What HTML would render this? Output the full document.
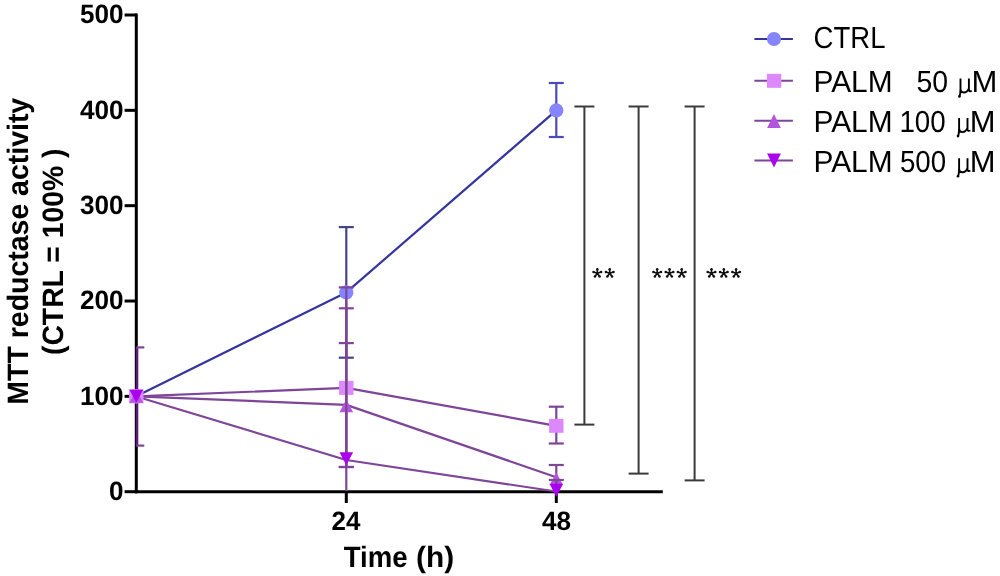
<!DOCTYPE html>
<html><head><meta charset="utf-8"><style>
html,body{margin:0;padding:0;background:#fff;width:1000px;height:576px;overflow:hidden}
svg{display:block;will-change:transform;filter:blur(0.4px)}
text{text-rendering:geometricPrecision}
</style></head><body>
<svg width="1000" height="576" viewBox="0 0 1000 576">
<rect width="1000" height="576" fill="#fff"/>
<g stroke="#000" stroke-width="3" fill="none" stroke-linecap="butt">
<line x1="136.3" y1="13.4" x2="136.3" y2="493.3"/>
<line x1="134.8" y1="491.8" x2="662.8" y2="491.8"/>
<line x1="124.6" y1="491.70" x2="137" y2="491.70"/>
<line x1="124.6" y1="396.36" x2="137" y2="396.36"/>
<line x1="124.6" y1="301.02" x2="137" y2="301.02"/>
<line x1="124.6" y1="205.68" x2="137" y2="205.68"/>
<line x1="124.6" y1="110.34" x2="137" y2="110.34"/>
<line x1="124.6" y1="15.00" x2="137" y2="15.00"/>
<line x1="346.30" y1="491" x2="346.30" y2="503"/>
<line x1="556.30" y1="491" x2="556.30" y2="503"/>
</g>
<g font-family="'Liberation Sans', sans-serif">
<text x="108.96" y="500.10" font-size="26.5" font-weight="bold" fill="#000" textLength="14.52" lengthAdjust="spacingAndGlyphs">0</text>
<text x="79.98" y="404.76" font-size="26.5" font-weight="bold" fill="#000" textLength="43.55" lengthAdjust="spacingAndGlyphs">100</text>
<text x="79.98" y="309.42" font-size="26.5" font-weight="bold" fill="#000" textLength="43.55" lengthAdjust="spacingAndGlyphs">200</text>
<text x="79.98" y="214.08" font-size="26.5" font-weight="bold" fill="#000" textLength="43.55" lengthAdjust="spacingAndGlyphs">300</text>
<text x="79.98" y="118.74" font-size="26.5" font-weight="bold" fill="#000" textLength="43.55" lengthAdjust="spacingAndGlyphs">400</text>
<text x="79.98" y="23.40" font-size="26.5" font-weight="bold" fill="#000" textLength="43.55" lengthAdjust="spacingAndGlyphs">500</text>
<text x="331.49" y="530.30" font-size="26.5" font-weight="bold" fill="#000" textLength="28.90" lengthAdjust="spacingAndGlyphs">24</text>
<text x="542.01" y="530.30" font-size="26.5" font-weight="bold" fill="#000" textLength="29.04" lengthAdjust="spacingAndGlyphs">48</text>
<text x="343.72" y="566.50" font-size="29.5" font-weight="bold" fill="#000" textLength="63.87" lengthAdjust="spacingAndGlyphs">Time</text>
<text x="416.11" y="566.50" font-size="29.5" font-weight="bold" fill="#000" textLength="38.09" lengthAdjust="spacingAndGlyphs">(h)</text>
<g transform="translate(28.3,0) rotate(-90)"><text x="-404.65" y="0.00" font-size="29.5" font-weight="bold" fill="#000" textLength="306.84" lengthAdjust="spacingAndGlyphs">MTT reductase activity</text></g>
<g transform="translate(62.6,0) rotate(-90)"><text x="-355.02" y="0.00" font-size="29.5" font-weight="bold" fill="#000" textLength="206.41" lengthAdjust="spacingAndGlyphs">(CTRL = 100% )</text></g>
<path d="M597.30,273.30 L597.30,269.30 M597.30,273.30 L601.10,272.06 M597.30,273.30 L599.65,276.54 M597.30,273.30 L594.95,276.54 M597.30,273.30 L593.50,272.06 " stroke="#111" stroke-width="1.7" fill="none"/><g fill="#111"><circle cx="597.30" cy="269.30" r="1.25"/><circle cx="601.10" cy="272.06" r="1.25"/><circle cx="599.65" cy="276.54" r="1.25"/><circle cx="594.95" cy="276.54" r="1.25"/><circle cx="593.50" cy="272.06" r="1.25"/></g>
<path d="M609.70,273.30 L609.70,269.30 M609.70,273.30 L613.50,272.06 M609.70,273.30 L612.05,276.54 M609.70,273.30 L607.35,276.54 M609.70,273.30 L605.90,272.06 " stroke="#111" stroke-width="1.7" fill="none"/><g fill="#111"><circle cx="609.70" cy="269.30" r="1.25"/><circle cx="613.50" cy="272.06" r="1.25"/><circle cx="612.05" cy="276.54" r="1.25"/><circle cx="607.35" cy="276.54" r="1.25"/><circle cx="605.90" cy="272.06" r="1.25"/></g>
<path d="M657.20,273.30 L657.20,269.30 M657.20,273.30 L661.00,272.06 M657.20,273.30 L659.55,276.54 M657.20,273.30 L654.85,276.54 M657.20,273.30 L653.40,272.06 " stroke="#111" stroke-width="1.7" fill="none"/><g fill="#111"><circle cx="657.20" cy="269.30" r="1.25"/><circle cx="661.00" cy="272.06" r="1.25"/><circle cx="659.55" cy="276.54" r="1.25"/><circle cx="654.85" cy="276.54" r="1.25"/><circle cx="653.40" cy="272.06" r="1.25"/></g>
<path d="M669.50,273.30 L669.50,269.30 M669.50,273.30 L673.30,272.06 M669.50,273.30 L671.85,276.54 M669.50,273.30 L667.15,276.54 M669.50,273.30 L665.70,272.06 " stroke="#111" stroke-width="1.7" fill="none"/><g fill="#111"><circle cx="669.50" cy="269.30" r="1.25"/><circle cx="673.30" cy="272.06" r="1.25"/><circle cx="671.85" cy="276.54" r="1.25"/><circle cx="667.15" cy="276.54" r="1.25"/><circle cx="665.70" cy="272.06" r="1.25"/></g>
<path d="M681.70,273.30 L681.70,269.30 M681.70,273.30 L685.50,272.06 M681.70,273.30 L684.05,276.54 M681.70,273.30 L679.35,276.54 M681.70,273.30 L677.90,272.06 " stroke="#111" stroke-width="1.7" fill="none"/><g fill="#111"><circle cx="681.70" cy="269.30" r="1.25"/><circle cx="685.50" cy="272.06" r="1.25"/><circle cx="684.05" cy="276.54" r="1.25"/><circle cx="679.35" cy="276.54" r="1.25"/><circle cx="677.90" cy="272.06" r="1.25"/></g>
<path d="M711.50,273.30 L711.50,269.30 M711.50,273.30 L715.30,272.06 M711.50,273.30 L713.85,276.54 M711.50,273.30 L709.15,276.54 M711.50,273.30 L707.70,272.06 " stroke="#111" stroke-width="1.7" fill="none"/><g fill="#111"><circle cx="711.50" cy="269.30" r="1.25"/><circle cx="715.30" cy="272.06" r="1.25"/><circle cx="713.85" cy="276.54" r="1.25"/><circle cx="709.15" cy="276.54" r="1.25"/><circle cx="707.70" cy="272.06" r="1.25"/></g>
<path d="M723.80,273.30 L723.80,269.30 M723.80,273.30 L727.60,272.06 M723.80,273.30 L726.15,276.54 M723.80,273.30 L721.45,276.54 M723.80,273.30 L720.00,272.06 " stroke="#111" stroke-width="1.7" fill="none"/><g fill="#111"><circle cx="723.80" cy="269.30" r="1.25"/><circle cx="727.60" cy="272.06" r="1.25"/><circle cx="726.15" cy="276.54" r="1.25"/><circle cx="721.45" cy="276.54" r="1.25"/><circle cx="720.00" cy="272.06" r="1.25"/></g>
<path d="M736.10,273.30 L736.10,269.30 M736.10,273.30 L739.90,272.06 M736.10,273.30 L738.45,276.54 M736.10,273.30 L733.75,276.54 M736.10,273.30 L732.30,272.06 " stroke="#111" stroke-width="1.7" fill="none"/><g fill="#111"><circle cx="736.10" cy="269.30" r="1.25"/><circle cx="739.90" cy="272.06" r="1.25"/><circle cx="738.45" cy="276.54" r="1.25"/><circle cx="733.75" cy="276.54" r="1.25"/><circle cx="732.30" cy="272.06" r="1.25"/></g>
<text x="813.62" y="48.10" font-size="30.4" font-weight="normal" fill="#000" textLength="71.84" lengthAdjust="spacingAndGlyphs">CTRL</text>
<text x="813.51" y="91.90" font-size="30.4" font-weight="normal" fill="#000" textLength="79.10" lengthAdjust="spacingAndGlyphs">PALM</text>
<text x="813.51" y="131.50" font-size="30.4" font-weight="normal" fill="#000" textLength="79.10" lengthAdjust="spacingAndGlyphs">PALM</text>
<text x="813.51" y="171.60" font-size="30.4" font-weight="normal" fill="#000" textLength="79.10" lengthAdjust="spacingAndGlyphs">PALM</text>
<text x="916.46" y="91.90" font-size="30.4" font-weight="normal" fill="#000" textLength="31.60" lengthAdjust="spacingAndGlyphs">50</text>
<text x="971.52" y="91.90" font-size="30.4" font-weight="normal" fill="#000" textLength="25.86" lengthAdjust="spacingAndGlyphs">M</text>
<text x="899.42" y="131.50" font-size="30.4" font-weight="normal" fill="#000" textLength="46.25" lengthAdjust="spacingAndGlyphs">100</text>
<text x="969.83" y="131.50" font-size="30.4" font-weight="normal" fill="#000" textLength="25.74" lengthAdjust="spacingAndGlyphs">M</text>
<text x="899.89" y="171.70" font-size="30.4" font-weight="normal" fill="#000" textLength="46.17" lengthAdjust="spacingAndGlyphs">500</text>
<text x="969.83" y="171.70" font-size="30.4" font-weight="normal" fill="#000" textLength="25.74" lengthAdjust="spacingAndGlyphs">M</text>
</g>
<path transform="translate(958.00,91.90)" d="M2.5,-13.4 L2.5,-2.6 Q2.6,0.6 5.8,0.6 Q9.3,0.6 10.9,-3.6 M10.9,-13.4 L10.9,-2.2 Q11,0.2 13.8,-1.0 M2.5,-3 L2.2,1.5 Q1.9,3.6 1.4,4.6" fill="none" stroke="#000" stroke-width="1.9" stroke-linecap="butt"/><circle cx="959.40" cy="96.50" r="1.3" fill="#000"/>
<path transform="translate(956.60,131.50)" d="M2.5,-13.4 L2.5,-2.6 Q2.6,0.6 5.8,0.6 Q9.3,0.6 10.9,-3.6 M10.9,-13.4 L10.9,-2.2 Q11,0.2 13.8,-1.0 M2.5,-3 L2.2,1.5 Q1.9,3.6 1.4,4.6" fill="none" stroke="#000" stroke-width="1.9" stroke-linecap="butt"/><circle cx="958.00" cy="136.10" r="1.3" fill="#000"/>
<path transform="translate(956.60,171.70)" d="M2.5,-13.4 L2.5,-2.6 Q2.6,0.6 5.8,0.6 Q9.3,0.6 10.9,-3.6 M10.9,-13.4 L10.9,-2.2 Q11,0.2 13.8,-1.0 M2.5,-3 L2.2,1.5 Q1.9,3.6 1.4,4.6" fill="none" stroke="#000" stroke-width="1.9" stroke-linecap="butt"/><circle cx="958.00" cy="176.30" r="1.3" fill="#000"/>
<g stroke="#3a3a3a" stroke-width="2" fill="none">
<line x1="584.4" y1="106.5" x2="584.4" y2="424.6"/>
<line x1="574.4" y1="106.5" x2="594.4" y2="106.5"/>
<line x1="574.4" y1="424.6" x2="594.4" y2="424.6"/>
<line x1="638.6" y1="106.5" x2="638.6" y2="473.6"/>
<line x1="628.6" y1="106.5" x2="648.6" y2="106.5"/>
<line x1="628.6" y1="473.6" x2="648.6" y2="473.6"/>
<line x1="694.6" y1="106.5" x2="694.6" y2="480.4"/>
<line x1="684.6" y1="106.5" x2="704.6" y2="106.5"/>
<line x1="684.6" y1="480.4" x2="704.6" y2="480.4"/>
</g>
<polyline points="136.3,396.3 346.3,292.4 556.3,110.4" fill="none" stroke="#35359f" stroke-width="2.2" stroke-linejoin="round"/>
<polyline points="136.3,396.3 346.3,387.9 556.3,425.8" fill="none" stroke="#7e4599" stroke-width="2.2" stroke-linejoin="round"/>
<polyline points="136.3,396.3 346.3,404.9 556.3,477.2" fill="none" stroke="#7e4599" stroke-width="2.2" stroke-linejoin="round"/>
<polyline points="136.3,396.5 346.3,460.0 556.3,491.5" fill="none" stroke="#7e4599" stroke-width="2.2" stroke-linejoin="round"/>
<line x1="137.0" y1="347.4" x2="137.0" y2="445.6" stroke="#5a1a78" stroke-width="2.6"/>
<line x1="136.3" y1="347.4" x2="144.3" y2="347.4" stroke="#7e4599" stroke-width="2.2"/>
<line x1="136.3" y1="445.6" x2="144.3" y2="445.6" stroke="#7e4599" stroke-width="2.2"/>
<line x1="346.3" y1="227.1" x2="346.3" y2="357.7" stroke="#44448c" stroke-width="2.2"/><line x1="338.8" y1="227.1" x2="353.8" y2="227.1" stroke="#44448c" stroke-width="2.2"/><line x1="338.8" y1="357.7" x2="353.8" y2="357.7" stroke="#44448c" stroke-width="2.2"/>
<line x1="556.3" y1="83" x2="556.3" y2="137" stroke="#4a4ab8" stroke-width="2.2"/><line x1="548.8" y1="83" x2="563.8" y2="83" stroke="#4a4ab8" stroke-width="2.2"/><line x1="548.8" y1="137" x2="563.8" y2="137" stroke="#4a4ab8" stroke-width="2.2"/>
<circle cx="136.3" cy="396.3" r="7.1" fill="#8585ff"/>
<circle cx="346.3" cy="292.4" r="7.1" fill="#8585ff"/>
<circle cx="556.3" cy="110.4" r="7.1" fill="#8585ff"/>
<line x1="346.3" y1="308.3" x2="346.3" y2="467.2" stroke="#7e4599" stroke-width="2.2"/><line x1="338.8" y1="308.3" x2="353.8" y2="308.3" stroke="#7e4599" stroke-width="2.2"/><line x1="338.8" y1="467.0" x2="353.8" y2="467.0" stroke="#7e4599" stroke-width="2.2"/>
<line x1="556.3" y1="406.7" x2="556.3" y2="443.5" stroke="#7e4599" stroke-width="2.2"/><line x1="548.8" y1="406.7" x2="563.8" y2="406.7" stroke="#7e4599" stroke-width="2.2"/><line x1="548.8" y1="443.5" x2="563.8" y2="443.5" stroke="#7e4599" stroke-width="2.2"/>
<rect x="129.1" y="389.3" width="14.4" height="14" fill="#dd88ff"/>
<rect x="339.1" y="380.9" width="14.4" height="14" fill="#dd88ff"/>
<rect x="549.1" y="418.8" width="14.4" height="14" fill="#dd88ff"/>
<line x1="346.3" y1="343.1" x2="346.3" y2="467.2" stroke="#7e4599" stroke-width="2.2"/><line x1="338.8" y1="343.1" x2="353.8" y2="343.1" stroke="#7e4599" stroke-width="2.2"/><line x1="338.8" y1="467.0" x2="353.8" y2="467.0" stroke="#7e4599" stroke-width="2.2"/>
<line x1="556.3" y1="465" x2="556.3" y2="491" stroke="#7e4599" stroke-width="2.2"/><line x1="548.8" y1="465" x2="563.8" y2="465" stroke="#7e4599" stroke-width="2.2"/>
<polygon points="129.5,402.8 143.1,402.8 136.3,389.8" fill="#b455dd"/>
<polygon points="339.5,412.2 353.1,412.2 346.3,399.2" fill="#b455dd"/>
<polygon points="549.5,485.3 563.1,485.3 556.3,472.3" fill="#b455dd"/>
<line x1="346.3" y1="287.4" x2="346.3" y2="491" stroke="#7e4599" stroke-width="2.2"/><line x1="338.8" y1="287.4" x2="353.8" y2="287.4" stroke="#7e4599" stroke-width="2.2"/>
<line x1="556.3" y1="480" x2="556.3" y2="491" stroke="#7e4599" stroke-width="2.2"/><line x1="548.8" y1="480" x2="563.8" y2="480" stroke="#7e4599" stroke-width="2.2"/>
<polygon points="129.5,389.8 143.1,389.8 136.3,402.8" fill="#aa00ee"/>
<polygon points="339.5,452.2 353.1,452.2 346.3,465.2" fill="#aa00ee"/>
<polygon points="549.5,483.8 563.1,483.8 556.3,496.8" fill="#aa00ee"/>
<line x1="754.4" y1="39.0" x2="792.9" y2="39.0" stroke="#35359f" stroke-width="2"/>
<circle cx="774.0" cy="39.0" r="7.1" fill="#8585ff"/>
<line x1="754.4" y1="80.8" x2="792.9" y2="80.8" stroke="#7e4599" stroke-width="2"/>
<rect x="766.9" y="73.8" width="14.4" height="14" fill="#dd88ff"/>
<line x1="754.4" y1="120.7" x2="792.9" y2="120.7" stroke="#7e4599" stroke-width="2"/>
<polygon points="767.1,128.0 780.9,128.0 774.0,113.9" fill="#b455dd"/>
<line x1="754.4" y1="160.5" x2="792.9" y2="160.5" stroke="#7e4599" stroke-width="2"/>
<polygon points="767.1,153.4 780.9,153.4 774.0,167.6" fill="#aa00ee"/>
</svg>
</body></html>
